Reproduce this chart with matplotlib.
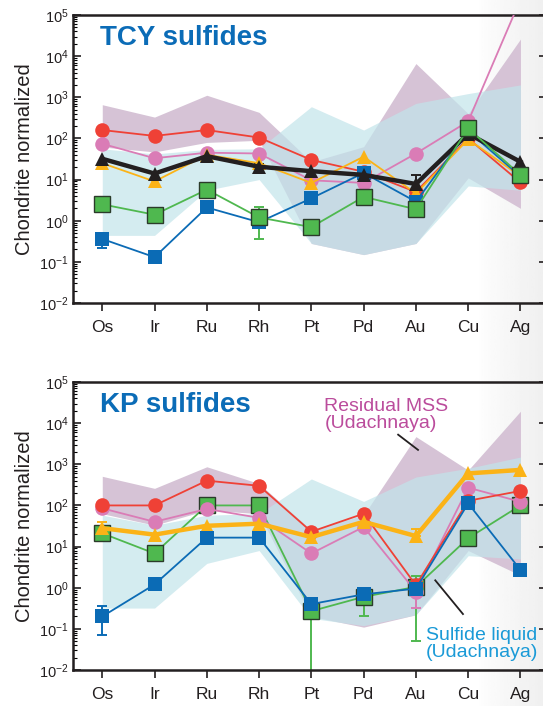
import numpy as np
import matplotlib
matplotlib.use('Agg')
import matplotlib.pyplot as plt
from matplotlib.ticker import FixedLocator, NullFormatter, FuncFormatter

plt.rcParams['font.family'] = ['Liberation Sans', 'DejaVu Sans']
plt.rcParams['mathtext.fontset'] = 'custom'
plt.rcParams['mathtext.rm'] = 'Liberation Sans'
plt.rcParams['mathtext.it'] = 'Liberation Sans:italic'
plt.rcParams['mathtext.bf'] = 'Liberation Sans:bold'

elements = ['Os', 'Ir', 'Ru', 'Rh', 'Pt', 'Pd', 'Au', 'Cu', 'Ag']

# ── TCY sulfides ─────────────────────────────────────────────────────────────
tcy_red    = [160, 115, 160, 105, 30, 15.5, 5.0, 100, 8.5]
tcy_pink   = [74, 33, 45, 43, 9.6, 8.3, 43, 260, 2.4e5]
tcy_orange = [25, 9, 40, 25, 8.3, 36, 4.6, 95, 12]
tcy_blue   = [0.36, 0.13, 2.1, 0.92, 3.5, 14.5, 2.9, 150, 12]
tcy_black  = [32, 14, 37, 20.5, 16, 13, 7.8, 130, 27]
tcy_green  = [2.5, 1.4, 5.7, 1.2, 0.7, 3.8, 1.9, 175, 13]

tcy_mss_hi = [660, 330, 1120, 430, 27, 63, 6600, 400, 26000]
tcy_mss_lo = [62, 47, 80, 90, 0.28, 0.15, 0.28, 11, 2.0]
tcy_liq_hi = [56, 42, 54, 56, 590, 160, 710, 1230, 2000]
tcy_liq_lo = [0.44, 0.44, 5.5, 10, 0.28, 0.15, 0.28, 7, 5.5]

# error bars: (element index, low, high)
tcy_blue_err  = [(0, 0.22, 0.36)]
tcy_green_err = [(3, 0.36, 2.1)]
tcy_black_err = [(3, 17, 24), (6, 4.7, 13)]

# ── KP sulfides ──────────────────────────────────────────────────────────────
kp_green  = [21, 6.8, 100, 100, 0.27, 0.6, 1.05, 16, 100]
kp_pink   = [85, 40, 82, 50, 6.8, 30, 0.8, 270, 123]
kp_red    = [100, 100, 400, 300, 23, 63, 1.15, 130, 225]
kp_orange = [28, 19.5, 32, 36, 17, 40, 18, 600, 730]
kp_blue   = [0.2, 1.2, 16.5, 16.5, 0.4, 0.69, 0.95, 112, 2.7]

kp_mss_hi = [510, 260, 870, 340, 25, 58, 4700, 720, 19500]
kp_mss_lo = [63, 33, 77, 63, 0.2, 0.11, 0.22, 8, 2.0]
kp_liq_hi = [58, 33, 58, 63, 440, 125, 490, 800, 1500]
kp_liq_lo = [0.32, 0.32, 3.9, 8, 0.18, 0.12, 0.22, 6, 5]

kp_blue_err   = [(0, 0.07, 0.35)]
kp_orange_err = [(0, 28, 40), (3, 36, 52), (6, 18, 26)]
kp_green_err  = [(4, 0.009, 0.27), (5, 0.2, 0.6), (6, 0.05, 1.9)]
kp_pink_err   = [(6, 0.32, 0.8)]

decades = list(range(-2, 6))

C_RED    = '#ef4136'
C_PINK   = '#da7cb6'
C_ORANGE = '#fbb317'
C_BLACK  = '#231f20'
C_GREEN  = '#4fb84f'
C_GEDGE  = '#2b3b2a'
C_BLUE   = '#0b6bb5'
C_TITLE  = '#0b6cb7'
C_MSS    = '#d6c3d6'
C_LIQ    = '#c2e4ea'

fig = plt.figure(figsize=(5.43, 7.06), dpi=100)

# faint greyish background towards the right edge
bg = fig.add_axes([0, 0, 1, 1], zorder=-10)
xs = np.linspace(0, 1, 300)
grad = np.tile(np.where(xs > 0.88, 1 - 0.06 * ((xs - 0.88) / 0.12) ** 0.8, 1.0), (2, 1))
bg.imshow(grad, cmap='gray', vmin=0, vmax=1, aspect='auto', extent=[0, 1, 0, 1])
bg.set_axis_off()

X = np.arange(len(elements))
major = [10.0 ** k for k in decades]
minor = [m * 10.0 ** k for k in decades[:-1] for m in range(2, 10)]


def series(ax, y, col, marker, ms, lw, mec=None, err=(), z=3):
    ax.plot(X, y, color=col, lw=lw, marker=marker, ms=ms, mfc=col,
            mec=mec if mec else col, mew=1.0 if mec else 0, zorder=z)
    for i, lo, hi in err:
        ax.errorbar(X[i], y[i], yerr=[[y[i] - lo], [hi - y[i]]], fmt='none',
                    ecolor=col, elinewidth=1.4, capsize=3.5, capthick=1.4,
                    zorder=z - 0.5)


def setup(ax, title):
    ax.set_facecolor('none')
    ax.set_yscale('log')
    ax.set_ylim(1e-2, 1e5)
    ax.set_xlim(-0.56, 8.5)
    ax.set_xticks(X)
    ax.set_xticklabels(elements)
    ax.yaxis.set_major_locator(FixedLocator(major))
    ax.yaxis.set_minor_locator(FixedLocator(minor))
    ax.yaxis.set_major_formatter(FuncFormatter(lambda v, p: r'$10^{%d}$' % round(np.log10(v))))
    ax.yaxis.set_minor_formatter(NullFormatter())
    ax.tick_params(axis='y', which='major', direction='in', length=6, width=1.2,
                   left=True, right=True, labelsize=10.5, pad=3, colors=C_BLACK)
    ax.tick_params(axis='y', which='minor', direction='in', length=3, width=0.8,
                   left=True, right=False)
    ax.tick_params(axis='x', which='both', direction='out', length=5.5, width=1.2,
                   top=False, labelsize=12.5, pad=7, colors=C_BLACK)
    for s in ax.spines.values():
        s.set_linewidth(1.8)
        s.set_color(C_BLACK)
    ax.set_ylabel('Chondrite normalized', fontsize=14.5, color=C_BLACK)
    ax.yaxis.set_label_coords(-0.083, 0.5)
    ax.text(0.057, 0.92, title, transform=ax.transAxes, fontsize=20,
            fontweight='bold', color=C_TITLE, ha='left', va='center')


def shades(ax, mss_hi, mss_lo, liq_hi, liq_lo):
    ax.fill_between(X, mss_lo, mss_hi, color=C_MSS, lw=0, zorder=1)
    ax.fill_between(X, liq_lo, liq_hi, color=C_LIQ, alpha=0.7, lw=0, zorder=1.5)


ax1 = fig.add_axes([73 / 543, 1 - 303 / 706, 473.6 / 543, 288 / 706])
ax2 = fig.add_axes([73 / 543, 1 - 670 / 706, 473.6 / 543, 288 / 706])

# ── top panel ────────────────────────────────────────────────────────────────
setup(ax1, 'TCY sulfides')
shades(ax1, tcy_mss_hi, tcy_mss_lo, tcy_liq_hi, tcy_liq_lo)
series(ax1, tcy_red, C_RED, 'o', 10.5, 1.3, z=3)
series(ax1, tcy_pink, C_PINK, 'o', 10.5, 1.3, z=3.1)
series(ax1, tcy_orange, C_ORANGE, '^', 10, 1.3, z=3.2)
series(ax1, tcy_blue, C_BLUE, 's', 10, 1.3, err=tcy_blue_err, z=3.3)
series(ax1, tcy_black, C_BLACK, '^', 9.5, 3.2, err=tcy_black_err, z=3.4)
series(ax1, tcy_green, C_GREEN, 's', 11, 1.3, mec=C_GEDGE, err=tcy_green_err, z=3.5)

# ── bottom panel ─────────────────────────────────────────────────────────────
setup(ax2, 'KP sulfides')
shades(ax2, kp_mss_hi, kp_mss_lo, kp_liq_hi, kp_liq_lo)
series(ax2, kp_green, C_GREEN, 's', 11, 1.3, mec=C_GEDGE, err=kp_green_err, z=3)
series(ax2, kp_pink, C_PINK, 'o', 10.5, 1.3, err=kp_pink_err, z=3.1)
series(ax2, kp_red, C_RED, 'o', 10.5, 1.3, z=3.2)
series(ax2, kp_orange, C_ORANGE, '^', 10, 3.2, err=kp_orange_err, z=3.3)
series(ax2, kp_blue, C_BLUE, 's', 10, 1.3, err=kp_blue_err, z=3.4)

ax2.text(4.25, 10 ** 4.62, 'Residual MSS\n(Udachnaya)', fontsize=14, color='#bb4c9c',
         ha='left', va='top', linespacing=1.0, zorder=6)
ax2.plot([5.66, 6.04], [10 ** 3.72, 10 ** 3.35], color=C_BLACK, lw=1.3, zorder=6)
ax2.text(6.19, 10 ** -0.95, 'Sulfide liquid\n(Udachnaya)', fontsize=14, color='#1a9ad7',
         ha='left', va='top', linespacing=1.0, zorder=6)
ax2.plot([6.37, 6.9], [10 ** 0.18, 10 ** -0.64], color=C_BLACK, lw=1.3, zorder=6)

fig.savefig('out.png', dpi=100)
